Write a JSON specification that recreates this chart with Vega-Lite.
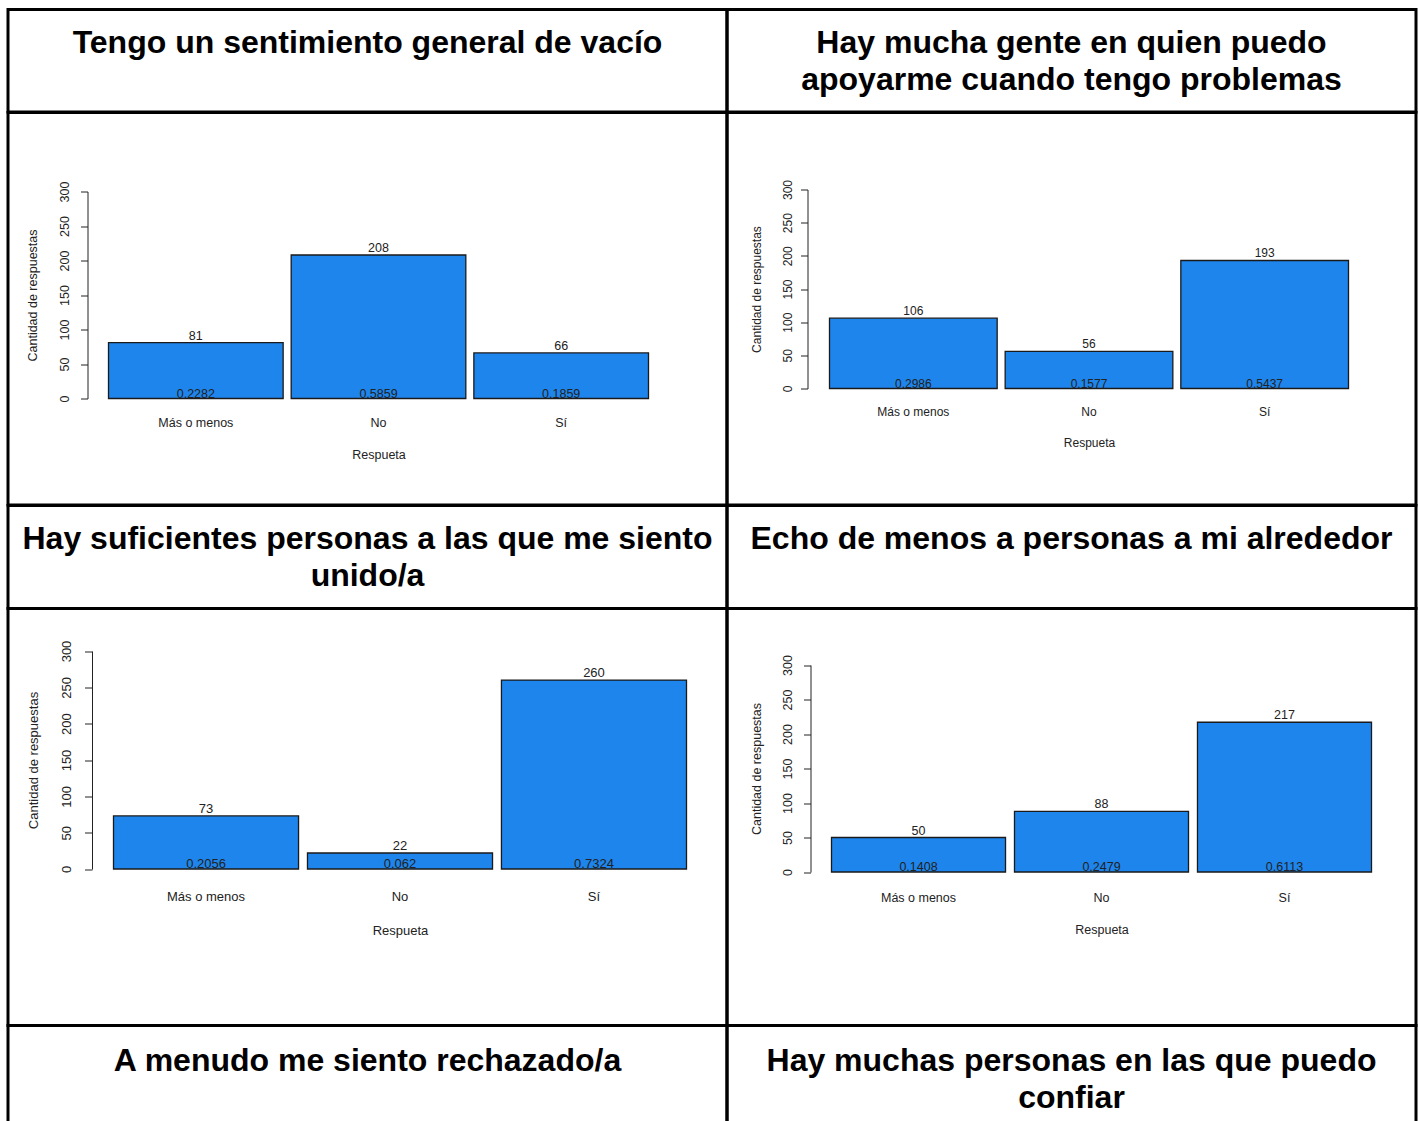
{
  "$schema": "https://vega.github.io/schema/vega-lite/v6.json",
  "padding": {"left": 6, "top": 7.5, "right": 0, "bottom": 0},
  "background": "white",
  "datasets": {
    "bars": [
      {"q": 1, "r": "Más o menos", "n": 81, "p": "0.2282"},
      {"q": 1, "r": "No", "n": 208, "p": "0.5859"},
      {"q": 1, "r": "Sí", "n": 66, "p": "0.1859"},
      {"q": 2, "r": "Más o menos", "n": 106, "p": "0.2986"},
      {"q": 2, "r": "No", "n": 56, "p": "0.1577"},
      {"q": 2, "r": "Sí", "n": 193, "p": "0.5437"},
      {"q": 3, "r": "Más o menos", "n": 73, "p": "0.2056"},
      {"q": 3, "r": "No", "n": 22, "p": "0.062"},
      {"q": 3, "r": "Sí", "n": 260, "p": "0.7324"},
      {"q": 4, "r": "Más o menos", "n": 50, "p": "0.1408"},
      {"q": 4, "r": "No", "n": 88, "p": "0.2479"},
      {"q": 4, "r": "Sí", "n": 217, "p": "0.6113"}
    ],
    "titles": [
      {"t": 1, "title": "Tengo un sentimiento general de vacío"},
      {"t": 2, "title": "Hay mucha gente en quien puedo\napoyarme cuando tengo problemas"},
      {"t": 3, "title": "Hay suficientes personas a las que me siento\nunido/a"},
      {"t": 4, "title": "Echo de menos a personas a mi alrededor"},
      {"t": 5, "title": "A menudo me siento rechazado/a"},
      {"t": 6, "title": "Hay muchas personas en las que puedo\nconfiar"}
    ]
  },
  "spacing": 0,
  "bounds": "flush",
  "columns": 2,
  "concat": [
    {"width": 719, "height": 102.5, "data": {"name": "titles"}, "transform": [{"filter": "datum.t === 1"}],
     "view": {"stroke": "#000", "strokeWidth": 3},
     "mark": {"type": "text", "font": "Liberation Sans", "fontSize": 32, "fontWeight": "bold", "baseline": "alphabetic", "dy": -7.5, "lineBreak": "\n", "lineHeight": 37, "align": "center", "color": "#000"},
     "encoding": {"x": {"field": "t", "type": "nominal", "axis": null}, "text": {"field": "title", "type": "nominal"}}},
    {"width": 689, "height": 102.5, "data": {"name": "titles"}, "transform": [{"filter": "datum.t === 2"}],
     "view": {"stroke": "#000", "strokeWidth": 3},
     "mark": {"type": "text", "font": "Liberation Sans", "fontSize": 32, "fontWeight": "bold", "baseline": "alphabetic", "dy": -7.5, "lineBreak": "\n", "lineHeight": 37, "align": "center", "color": "#000"},
     "encoding": {"x": {"field": "t", "type": "nominal", "axis": null}, "text": {"field": "title", "type": "nominal"}}},
    {
      "width": 719, "height": 392.5,
      "data": {"name": "bars"},
      "transform": [{"filter": "datum.q === 1"}],
      "encoding": {
        "x": {"field": "r", "type": "nominal", "sort": ["Más o menos", "No", "Sí"],
          "scale": {"range": [100.5, 640.5], "paddingInner": 0.044, "paddingOuter": 0},
          "axis": {"title": "Respueta", "offset": -106.5, "domain": false, "ticks": false, "tickSize": 0, "labelAngle": 0, "labelBaseline": "middle", "labelPadding": 24, "titleY": 56, "titleBaseline": "middle", "labelFontSize": 12.5, "titleFontSize": 12.5}},
        "y": {"field": "n", "type": "quantitative",
          "scale": {"domain": [0, 300], "range": [286, 79], "nice": false, "zero": false},
          "axis": {"title": "Cantidad de respuestas", "offset": -79.5, "values": [0, 50, 100, 150, 200, 250, 300], "tickSize": 7, "labelAngle": 270, "labelAlign": "center", "labelBaseline": "middle", "labelPadding": 16, "titleX": -55, "titleBaseline": "middle", "labelFontSize": 12.5, "titleFontSize": 12.5}}
      },
      "layer": [
        {"mark": {"type": "bar", "fill": "#1E85EC", "stroke": "#1a1a1a", "strokeWidth": 1.3}},
        {"mark": {"type": "text", "baseline": "alphabetic", "dy": -3, "fontSize": 12.5, "color": "#222"}, "encoding": {"text": {"field": "n", "type": "nominal"}}},
        {"mark": {"type": "text", "baseline": "alphabetic", "dy": -1, "fontSize": 12.5, "color": "#222"}, "encoding": {"y": {"datum": 0, "type": "quantitative"}, "text": {"field": "p", "type": "nominal"}}}
      ]
    },
    {
      "width": 689, "height": 392.5,
      "data": {"name": "bars"},
      "transform": [{"filter": "datum.q === 2"}],
      "encoding": {
        "x": {"field": "r", "type": "nominal", "sort": ["Más o menos", "No", "Sí"],
          "scale": {"range": [102.5, 621.5], "paddingInner": 0.0455, "paddingOuter": 0},
          "axis": {"title": "Respueta", "offset": -116.5, "domain": false, "ticks": false, "tickSize": 0, "labelAngle": 0, "labelBaseline": "middle", "labelPadding": 22.7, "titleY": 53.7, "titleBaseline": "middle", "labelFontSize": 12, "titleFontSize": 12}},
        "y": {"field": "n", "type": "quantitative",
          "scale": {"domain": [0, 300], "range": [276, 77], "nice": false, "zero": false},
          "axis": {"title": "Cantidad de respuestas", "offset": -80.5, "values": [0, 50, 100, 150, 200, 250, 300], "tickSize": 7, "labelAngle": 270, "labelAlign": "center", "labelBaseline": "middle", "labelPadding": 13, "titleX": -51, "titleBaseline": "middle", "labelFontSize": 12, "titleFontSize": 12}}
      },
      "layer": [
        {"mark": {"type": "bar", "fill": "#1E85EC", "stroke": "#1a1a1a", "strokeWidth": 1.3}},
        {"mark": {"type": "text", "baseline": "alphabetic", "dy": -3, "fontSize": 12, "color": "#222"}, "encoding": {"text": {"field": "n", "type": "nominal"}}},
        {"mark": {"type": "text", "baseline": "alphabetic", "dy": -1, "fontSize": 12, "color": "#222"}, "encoding": {"y": {"datum": 0, "type": "quantitative"}, "text": {"field": "p", "type": "nominal"}}}
      ]
    },
    {"width": 719, "height": 103, "data": {"name": "titles"}, "transform": [{"filter": "datum.t === 3"}],
     "view": {"stroke": "#000", "strokeWidth": 3},
     "mark": {"type": "text", "font": "Liberation Sans", "fontSize": 32, "fontWeight": "bold", "baseline": "alphabetic", "dy": -8.5, "lineBreak": "\n", "lineHeight": 37, "align": "center", "color": "#000"},
     "encoding": {"x": {"field": "t", "type": "nominal", "axis": null}, "text": {"field": "title", "type": "nominal"}}},
    {"width": 689, "height": 103, "data": {"name": "titles"}, "transform": [{"filter": "datum.t === 4"}],
     "view": {"stroke": "#000", "strokeWidth": 3},
     "mark": {"type": "text", "font": "Liberation Sans", "fontSize": 32, "fontWeight": "bold", "baseline": "alphabetic", "dy": -8.5, "lineBreak": "\n", "lineHeight": 37, "align": "center", "color": "#000"},
     "encoding": {"x": {"field": "t", "type": "nominal", "axis": null}, "text": {"field": "title", "type": "nominal"}}},
    {
      "width": 719, "height": 417,
      "data": {"name": "bars"},
      "transform": [{"filter": "datum.q === 3"}],
      "encoding": {
        "x": {"field": "r", "type": "nominal", "sort": ["Más o menos", "No", "Sí"],
          "scale": {"range": [105.5, 678.5], "paddingInner": 0.046, "paddingOuter": 0},
          "axis": {"title": "Respueta", "offset": -156.5, "domain": false, "ticks": false, "tickSize": 0, "labelAngle": 0, "labelBaseline": "middle", "labelPadding": 27, "titleY": 61, "titleBaseline": "middle", "labelFontSize": 13, "titleFontSize": 13}},
        "y": {"field": "n", "type": "quantitative",
          "scale": {"domain": [0, 300], "range": [260.5, 42.5], "nice": false, "zero": false},
          "axis": {"title": "Cantidad de respuestas", "offset": -84, "values": [0, 50, 100, 150, 200, 250, 300], "tickSize": 7.5, "labelAngle": 270, "labelAlign": "center", "labelBaseline": "middle", "labelPadding": 18, "titleX": -58.5, "titleBaseline": "middle", "labelFontSize": 13, "titleFontSize": 13}}
      },
      "layer": [
        {"mark": {"type": "bar", "fill": "#1E85EC", "stroke": "#1a1a1a", "strokeWidth": 1.3}},
        {"mark": {"type": "text", "baseline": "alphabetic", "dy": -3, "fontSize": 13, "color": "#222"}, "encoding": {"text": {"field": "n", "type": "nominal"}}},
        {"mark": {"type": "text", "baseline": "alphabetic", "dy": -1, "fontSize": 13, "color": "#222"}, "encoding": {"y": {"datum": 0, "type": "quantitative"}, "text": {"field": "p", "type": "nominal"}}}
      ]
    },
    {
      "width": 689, "height": 417,
      "data": {"name": "bars"},
      "transform": [{"filter": "datum.q === 4"}],
      "encoding": {
        "x": {"field": "r", "type": "nominal", "sort": ["Más o menos", "No", "Sí"],
          "scale": {"range": [104.5, 644.5], "paddingInner": 0.049, "paddingOuter": 0},
          "axis": {"title": "Respueta", "offset": -153.5, "domain": false, "ticks": false, "tickSize": 0, "labelAngle": 0, "labelBaseline": "middle", "labelPadding": 25, "titleY": 57, "titleBaseline": "middle", "labelFontSize": 12.5, "titleFontSize": 12.5}},
        "y": {"field": "n", "type": "quantitative",
          "scale": {"domain": [0, 300], "range": [263.5, 56.5], "nice": false, "zero": false},
          "axis": {"title": "Cantidad de respuestas", "offset": -83.5, "values": [0, 50, 100, 150, 200, 250, 300], "tickSize": 7, "labelAngle": 270, "labelAlign": "center", "labelBaseline": "middle", "labelPadding": 16, "titleX": -54.5, "titleBaseline": "middle", "labelFontSize": 12.5, "titleFontSize": 12.5}}
      },
      "layer": [
        {"mark": {"type": "bar", "fill": "#1E85EC", "stroke": "#1a1a1a", "strokeWidth": 1.3}},
        {"mark": {"type": "text", "baseline": "alphabetic", "dy": -3, "fontSize": 12.5, "color": "#222"}, "encoding": {"text": {"field": "n", "type": "nominal"}}},
        {"mark": {"type": "text", "baseline": "alphabetic", "dy": -1, "fontSize": 12.5, "color": "#222"}, "encoding": {"y": {"datum": 0, "type": "quantitative"}, "text": {"field": "p", "type": "nominal"}}}
      ]
    },
    {"width": 719, "height": 120, "data": {"name": "titles"}, "transform": [{"filter": "datum.t === 5"}],
     "view": {"stroke": "#000", "strokeWidth": 3},
     "mark": {"type": "text", "font": "Liberation Sans", "fontSize": 32, "fontWeight": "bold", "baseline": "alphabetic", "dy": -15, "lineBreak": "\n", "lineHeight": 37, "align": "center", "color": "#000"},
     "encoding": {"x": {"field": "t", "type": "nominal", "axis": null}, "text": {"field": "title", "type": "nominal"}}},
    {"width": 689, "height": 120, "data": {"name": "titles"}, "transform": [{"filter": "datum.t === 6"}],
     "view": {"stroke": "#000", "strokeWidth": 3},
     "mark": {"type": "text", "font": "Liberation Sans", "fontSize": 32, "fontWeight": "bold", "baseline": "alphabetic", "dy": -15, "lineBreak": "\n", "lineHeight": 37, "align": "center", "color": "#000"},
     "encoding": {"x": {"field": "t", "type": "nominal", "axis": null}, "text": {"field": "title", "type": "nominal"}}}
  ],
  "config": {
    "view": {"stroke": "#000", "strokeWidth": 3},
    "font": "Liberation Sans",
    "text": {"font": "Liberation Sans"},
    "axis": {"grid": false, "labelFont": "Liberation Sans", "titleFont": "Liberation Sans", "labelColor": "#222", "titleColor": "#222", "domainColor": "#222", "tickColor": "#222", "titleFontWeight": "normal", "labelOverlap": false, "labelFlush": false, "domainWidth": 1, "tickWidth": 1}
  }
}
